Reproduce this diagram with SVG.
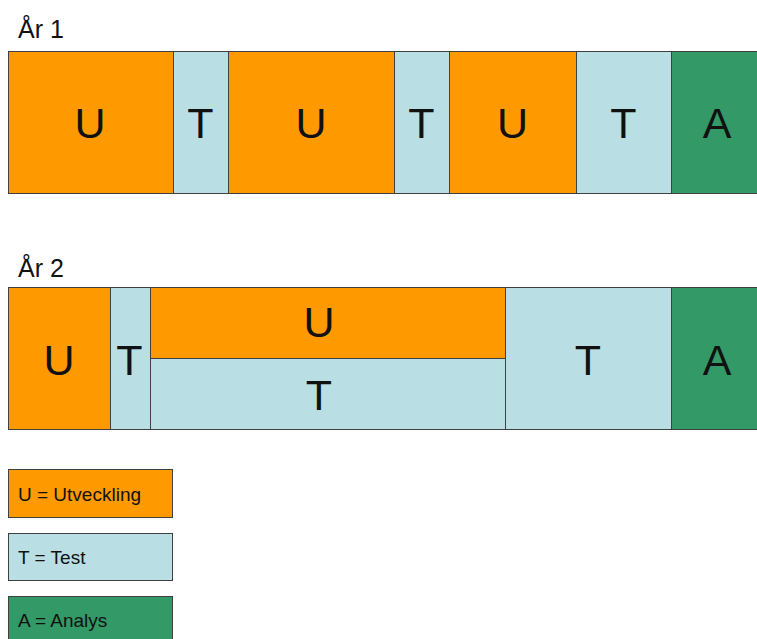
<svg xmlns="http://www.w3.org/2000/svg" width="757" height="639" viewBox="0 0 757 639">
<style>
.u{fill:#FF9900;stroke:#404040;stroke-width:1}
.t{fill:#B9DFE4;stroke:#404040;stroke-width:1}
.a{fill:#339966;stroke:#404040;stroke-width:1}
.big{font-family:"Liberation Sans",Arial,sans-serif;font-size:43px;fill:#111;text-anchor:middle}
.hd{font-family:"Liberation Sans",Arial,sans-serif;font-size:25px;fill:#111}
.lg{font-family:"Liberation Sans",Arial,sans-serif;font-size:19px;fill:#111}
</style>
<rect width="757" height="639" fill="#fff"/>
<text class="hd" x="18" y="38">År 1</text>
<g id="r1u1"><rect class="u" x="8.5" y="51.5" width="165" height="142"/><text class="big" x="90" y="138">U</text></g>
<g id="r1t1"><rect class="t" x="173.5" y="51.5" width="55" height="142"/><text class="big" x="200.5" y="138">T</text></g>
<g id="r1u2"><rect class="u" x="228.5" y="51.5" width="166" height="142"/><text class="big" x="311" y="138">U</text></g>
<g id="r1t2"><rect class="t" x="394.5" y="51.5" width="55" height="142"/><text class="big" x="421.5" y="138">T</text></g>
<g id="r1u3"><rect class="u" x="449.5" y="51.5" width="127" height="142"/><text class="big" x="512.5" y="138">U</text></g>
<g id="r1t3"><rect class="t" x="576.5" y="51.5" width="95" height="142"/><text class="big" x="623.5" y="138">T</text></g>
<g id="r1a"><rect class="a" x="671.5" y="51.5" width="92" height="142"/><text class="big" x="717" y="138">A</text></g>

<text class="hd" x="18" y="277">År 2</text>
<g id="r2u1"><rect class="u" x="8.5" y="287.5" width="102" height="142"/><text class="big" x="59" y="375">U</text></g>
<g id="r2t1"><rect class="t" x="110.5" y="287.5" width="40" height="142"/><text class="big" x="129.5" y="375">T</text></g>
<g id="r2u2"><rect class="u" x="150.5" y="287.5" width="355" height="71"/><text class="big" x="319" y="337">U</text></g>
<g id="r2t2"><rect class="t" x="150.5" y="358.5" width="355" height="71"/><text class="big" x="319" y="410">T</text></g>
<g id="r2t3"><rect class="t" x="505.5" y="287.5" width="166" height="142"/><text class="big" x="588" y="375">T</text></g>
<g id="r2a"><rect class="a" x="671.5" y="287.5" width="92" height="142"/><text class="big" x="717" y="375">A</text></g>

<g id="legU"><rect class="u" x="8.5" y="469.5" width="164" height="48"/><text class="lg" x="18" y="501">U = Utveckling</text></g>
<g id="legT"><rect class="t" x="8.5" y="533.5" width="164" height="47"/><text class="lg" x="18" y="564">T = Test</text></g>
<g id="legA"><rect class="a" x="8.5" y="596.5" width="164" height="50"/><text class="lg" x="18" y="627">A = Analys</text></g>
<g id="connectors"/>
</svg>
